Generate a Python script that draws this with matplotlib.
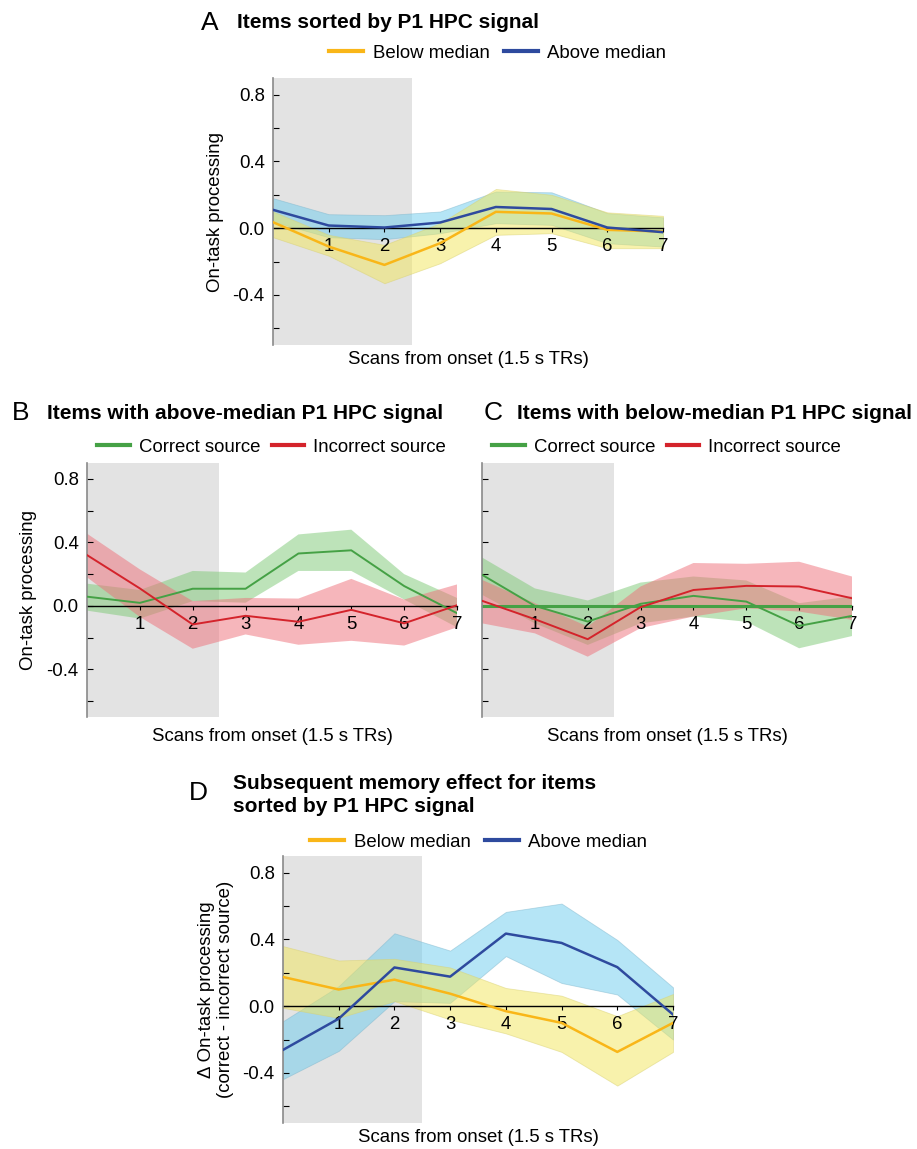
import matplotlib
matplotlib.use("Agg")
import matplotlib.pyplot as plt
from matplotlib.ticker import FixedLocator

plt.rcParams['font.family'] = ['Liberation Sans', 'DejaVu Sans']
plt.rcParams['axes.unicode_minus'] = False

# ---------------- data ----------------
scans = [0, 1, 2, 3, 4, 5, 6, 7]
xtick_labels = ['1', '2', '3', '4', '5', '6', '7']

A_below = [0.036, -0.11, -0.22, -0.09, 0.098, 0.088, -0.01, -0.02]
A_below_hi = [0.10, -0.04, -0.10, 0.03, 0.235, 0.20, 0.095, 0.074]
A_below_lo = [-0.054, -0.165, -0.33, -0.21, -0.04, -0.03, -0.12, -0.12]
A_above = [0.11, 0.016, 0.004, 0.034, 0.127, 0.115, 0.004, -0.024]
A_above_hi = [0.18, 0.084, 0.078, 0.10, 0.22, 0.215, 0.09, 0.065]
A_above_lo = [0.04, -0.054, -0.066, -0.03, 0.03, 0.02, -0.09, -0.11]

B_correct = [0.058, 0.019, 0.108, 0.108, 0.33, 0.35, 0.125, -0.046]
B_correct_hi = [0.14, 0.10, 0.22, 0.21, 0.45, 0.48, 0.20, 0.05]
B_correct_lo = [-0.03, -0.08, 0.03, 0.02, 0.22, 0.22, 0.04, -0.135]
B_incorrect = [0.32, 0.11, -0.117, -0.0625, -0.10, -0.025, -0.11, 0.004]
B_incorrect_hi = [0.455, 0.23, 0.03, 0.05, 0.046, 0.17, 0.04, 0.135]
B_incorrect_lo = [0.18, -0.07, -0.27, -0.18, -0.245, -0.22, -0.25, -0.135]

C_correct = [0.196, 0.0, -0.099, 0.013, 0.063, 0.027, -0.126, -0.063]
C_correct_hi = [0.305, 0.11, 0.034, 0.147, 0.185, 0.16, 0.017, 0.06]
C_correct_lo = [0.07, -0.11, -0.246, -0.11, -0.067, -0.10, -0.267, -0.19]
C_incorrect = [0.032, -0.084, -0.21, -0.008, 0.10, 0.126, 0.122, 0.048]
C_incorrect_hi = [0.164, 0.017, -0.13, 0.122, 0.27, 0.265, 0.278, 0.185]
C_incorrect_lo = [-0.11, -0.173, -0.32, -0.14, -0.067, -0.015, -0.036, -0.088]

D_above = [-0.262, -0.075, 0.232, 0.177, 0.435, 0.379, 0.234, -0.05]
D_above_hi = [-0.09, 0.12, 0.437, 0.333, 0.565, 0.615, 0.397, 0.113]
D_above_lo = [-0.437, -0.268, 0.03, 0.02, 0.30, 0.139, 0.07, -0.20]
D_below = [0.175, 0.10, 0.159, 0.075, -0.03, -0.10, -0.274, -0.10]
D_below_hi = [0.36, 0.274, 0.284, 0.232, 0.109, 0.063, -0.06, 0.073]
D_below_lo = [-0.01, -0.07, 0.03, -0.08, -0.163, -0.274, -0.476, -0.274]

stim_end = 2.5

# ---------------- styles ----------------
YELLOW = '#F9B618'
YELLOW_BAND = '#F2E65A'
BLUE = '#2E4A9E'
BLUE_BAND = '#6CCCEE'
GREEN = '#45A145'
GREEN_BAND = '#7CC875'
RED = '#D4232B'
RED_BAND = '#EE6E78'

FS = 13.4
W, H = 917, 1149
fig = plt.figure(figsize=(W / 100, H / 100), dpi=100)


def px_axes(left, right, top, bottom):
    return fig.add_axes([left / W, 1 - bottom / H, (right - left) / W, (bottom - top) / H])


def style_axes(ax, show_ylabels=True, ylabel=None, ylabel_pad=8, xlabel_y=-0.026):
    ax.set_xlim(0, 7)
    ax.set_ylim(-0.7, 0.9)
    ax.axvspan(0, stim_end, color='#E3E3E3', zorder=0, lw=0)
    for s in ('top', 'right'):
        ax.spines[s].set_visible(False)
    ax.spines['bottom'].set_position(('data', 0))
    ax.spines['bottom'].set_color('black')
    ax.spines['bottom'].set_linewidth(1.0)
    ax.spines['bottom'].set_zorder(1.5)
    ax.spines['left'].set_color('#8a8a8a')
    ax.spines['left'].set_linewidth(1.2)
    ax.xaxis.set_major_locator(FixedLocator(scans[1:]))
    ax.set_xticklabels(xtick_labels)
    ax.yaxis.set_major_locator(FixedLocator([-0.4, 0.0, 0.4, 0.8]))
    ax.yaxis.set_minor_locator(FixedLocator([-0.6, -0.2, 0.2, 0.6]))
    ax.tick_params(axis='x', direction='out', length=3, width=0.8, labelsize=FS, pad=4)
    ax.tick_params(axis='y', which='both', direction='in', length=4, width=0.8,
                   labelsize=FS, pad=6, labelleft=show_ylabels)
    ax.set_xlabel('Scans from onset (1.5 s TRs)', fontsize=FS)
    ax.xaxis.set_label_coords(0.5, xlabel_y)
    if ylabel:
        ax.set_ylabel(ylabel, fontsize=FS, labelpad=ylabel_pad)
    ax.patch.set_alpha(0)


def band(ax, lo, hi, color, alpha, edge=None):
    ax.fill_between(scans, lo, hi, color=color, alpha=alpha, lw=0.6 if edge else 0,
                    edgecolor=edge if edge else 'none', zorder=1)


def leg(ax, handles, x_px, y_px, hl=1.85, cs=0.75):
    ax.legend(handles=handles, loc='center left', bbox_to_anchor=(x_px / W, 1 - y_px / H),
              bbox_transform=fig.transFigure, ncol=2, frameon=False, fontsize=FS,
              handlelength=hl, handletextpad=0.5, columnspacing=cs,
              borderpad=0, borderaxespad=0)


def heading(letter, title, letter_x, title_x, y_px, y2=None):
    fig.text(letter_x / W, 1 - y_px / H, letter, fontsize=19, ha='center', va='center')
    fig.text(title_x / W, 1 - (y2 if y2 else y_px) / H, title, fontsize=15,
             fontweight='bold', ha='left', va='center', linespacing=1.3)


# ---------------- Panel A ----------------
axA = px_axes(273, 663, 78, 345)
style_axes(axA, ylabel='On-task processing', ylabel_pad=6, xlabel_y=-0.024)
band(axA, A_above_lo, A_above_hi, BLUE_BAND, 0.5, edge='#7fb6cc')
band(axA, A_below_lo, A_below_hi, YELLOW_BAND, 0.5, edge='#d8d070')
axA.plot(scans, A_below, color=YELLOW, lw=1.8, zorder=3)
axA.plot(scans, A_above, color=BLUE, lw=1.8, zorder=3)
hA1 = plt.Line2D([], [], color=YELLOW, lw=3, label='Below median')
hA2 = plt.Line2D([], [], color=BLUE, lw=3, label='Above median')
leg(axA, [hA1, hA2], 329, 53)
heading('A', 'Items sorted by P1 HPC signal', 210, 237, 23)

# ---------------- Panel B ----------------
axB = px_axes(87, 457, 463, 717)
style_axes(axB, ylabel='On-task processing', ylabel_pad=7, xlabel_y=-0.042)
band(axB, B_correct_lo, B_correct_hi, GREEN_BAND, 0.5)
band(axB, B_incorrect_lo, B_incorrect_hi, RED_BAND, 0.5)
axB.plot(scans, B_correct, color=GREEN, lw=1.4, zorder=3)
axB.plot(scans, B_incorrect, color=RED, lw=1.4, zorder=3)
hG = plt.Line2D([], [], color=GREEN, lw=3, label='Correct source')
hR = plt.Line2D([], [], color=RED, lw=3, label='Incorrect source')
leg(axB, [hG, hR], 97, 447, hl=1.75, cs=0.6)
heading('B', 'Items with above-median P1 HPC signal', 21, 47, 413)

# ---------------- Panel C ----------------
axC = px_axes(482, 852, 463, 717)
style_axes(axC, show_ylabels=False, xlabel_y=-0.042)
band(axC, C_correct_lo, C_correct_hi, GREEN_BAND, 0.5)
band(axC, C_incorrect_lo, C_incorrect_hi, RED_BAND, 0.5)
axC.axhline(0, color=GREEN, lw=2.2, zorder=2)
axC.plot(scans, C_correct, color=GREEN, lw=1.4, zorder=3)
axC.plot(scans, C_incorrect, color=RED, lw=1.4, zorder=3)
hG2 = plt.Line2D([], [], color=GREEN, lw=3, label='Correct source')
hR2 = plt.Line2D([], [], color=RED, lw=3, label='Incorrect source')
leg(axC, [hG2, hR2], 492, 447, hl=1.75, cs=0.6)
heading('C', 'Items with below-median P1 HPC signal', 493, 517, 413)

# ---------------- Panel D ----------------
axD = px_axes(283, 673, 856, 1123)
style_axes(axD, ylabel='\u0394 On-task processing\n(correct - incorrect source)',
           ylabel_pad=6, xlabel_y=-0.024)
band(axD, D_above_lo, D_above_hi, BLUE_BAND, 0.5, edge='#7fb6cc')
band(axD, D_below_lo, D_below_hi, YELLOW_BAND, 0.5, edge='#d8d070')
axD.plot(scans, D_below, color=YELLOW, lw=1.8, zorder=3)
axD.plot(scans, D_above, color=BLUE, lw=1.8, zorder=3)
hD1 = plt.Line2D([], [], color=YELLOW, lw=3, label='Below median')
hD2 = plt.Line2D([], [], color=BLUE, lw=3, label='Above median')
leg(axD, [hD1, hD2], 310, 842)
heading('D', 'Subsequent memory effect for items\nsorted by P1 HPC signal', 198, 233, 793, y2=795)

fig.savefig('out.png', dpi=100)
